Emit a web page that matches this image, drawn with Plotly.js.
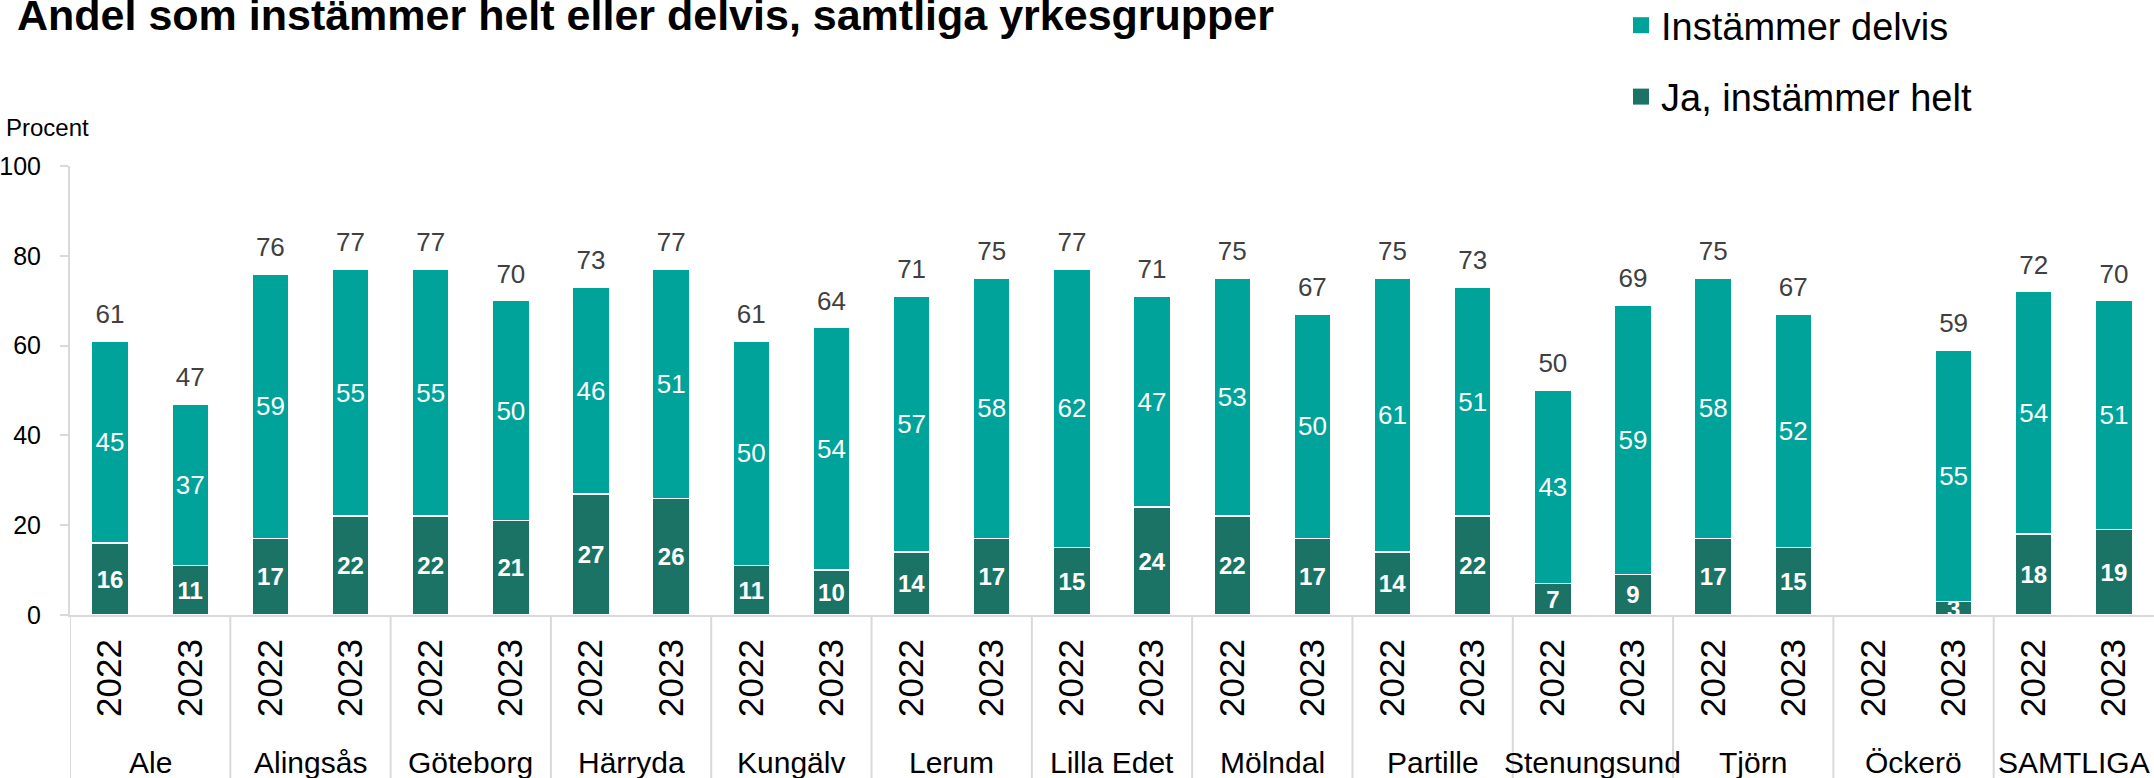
<!DOCTYPE html>
<html>
<head>
<meta charset="utf-8">
<script src="https://cdn.plot.ly/plotly-3.0.1.min.js"></script>
<style>html,body{margin:0;padding:0;background:#fff;}#chart{width:2154px;height:778px;}</style>
</head>
<body>
<div id="chart"></div>
<script>
// ---- data ----
const groups = ['Ale','Alingsås','Göteborg','Härryda','Kungälv','Lerum','Lilla Edet','Mölndal','Partille','Stenungsund','Tjörn','Öckerö','SAMTLIGA'];
const years = ['2022','2023'];
const helt   = [16,11, 17,22, 22,21, 27,26, 11,10, 14,17, 15,24, 22,17, 14,22, 7,9, 17,15, null,3, 18,19];
const delvis = [45,37, 59,55, 55,50, 46,51, 50,54, 57,58, 62,47, 53,50, 61,51, 43,59, 58,52, null,55, 54,51];
const totalt = [61,47, 76,77, 77,70, 73,77, 61,64, 71,75, 77,71, 75,67, 75,73, 50,69, 75,67, null,59, 72,70];
const seriesNames = ['Ja, instämmer helt','Instämmer delvis'];
const titleText = 'Andel som instämmer helt eller delvis, samtliga yrkesgrupper';
const yLabel = 'Procent';

// ---- derived ----
const keys = [], yearText = [];
groups.forEach(g => years.forEach(y => { keys.push(g + ' ' + y); yearText.push(y); }));
const delvisHeight = totalt.map((t, i) => (t == null || helt[i] == null) ? null : t - helt[i]);
const txt = a => a.map(v => v == null ? '' : String(v));

const FONT = 'Liberation Sans, Arial, sans-serif';
const DARK = '#1b7366', LIGHT = '#00a39a', AXIS = '#d9d9d9';
const colors = [DARK, LIGHT];

const traces = [
  {
    type: 'bar', name: seriesNames[0], x: keys, y: helt,
    marker: {color: DARK, line: {color: '#ffffff', width: 1.5}},
    text: txt(helt), textposition: 'inside', insidetextanchor: 'middle',
    textangle: 0, constraintext: 'none', cliponaxis: false,
    textfont: {family: FONT, size: 24, color: '#ffffff', weight: 'bold'},
    showlegend: false, hoverinfo: 'skip'
  },
  {
    type: 'bar', name: seriesNames[1], x: keys, y: delvisHeight,
    marker: {color: LIGHT, line: {color: '#ffffff', width: 1.5}},
    text: txt(delvis), textposition: 'inside', insidetextanchor: 'middle',
    textangle: 0, constraintext: 'none',
    textfont: {family: FONT, size: 26, color: '#ffffff'},
    showlegend: false, hoverinfo: 'skip'
  },
  {
    type: 'scatter', mode: 'markers+text', x: keys, y: totalt,
    text: txt(totalt), textposition: 'top center',
    marker: {size: 17, color: 'rgba(0,0,0,0)'},
    textfont: {family: FONT, size: 26, color: '#404040'},
    showlegend: false, hoverinfo: 'skip', cliponaxis: false
  }
];
// legend entries (square swatches) for the two stacked series
seriesNames.forEach((n, i) => traces.push({
  type: 'scatter', mode: 'markers', name: n, x: [null], y: [null],
  marker: {symbol: 'square', size: 18, color: colors[i]},
  legendgroup: 'g' + i, legendrank: 2 - i, hoverinfo: 'skip'
}));

const M = {l: 70, r: 0, t: 166, b: 163, autoexpand: false};
const plotH = 778 - M.t - M.b;
const pyToPaper = py => (778 - M.b - py) / plotH;
const nCat = keys.length;

const shapes = groups.map((g, i) => ({
  type: 'line', xref: 'x', yref: 'paper',
  x0: i * years.length - 0.5, x1: i * years.length - 0.5,
  y0: 0, y1: pyToPaper(778),
  line: {color: AXIS, width: 2}, layer: 'below'
}));

const annotations = groups.map((g, i) => ({
  xref: 'x', yref: 'paper', x: i * years.length + (years.length - 1) / 2,
  y: pyToPaper(762), yanchor: 'middle', xanchor: 'center',
  text: g, showarrow: false, font: {family: FONT, size: 30, color: '#000'}
}));
annotations.push({
  xref: 'paper', yref: 'paper', x: -66 / (2154 - M.l - M.r), xanchor: 'left',
  y: pyToPaper(127), yanchor: 'middle', text: yLabel, showarrow: false,
  font: {family: FONT, size: 24, color: '#000'}
});

const layout = {
  width: 2154, height: 778, margin: M,
  paper_bgcolor: '#fff', plot_bgcolor: '#fff',
  barmode: 'stack', bargap: 0.54,
  font: {family: FONT, color: '#000'},
  title: {
    text: titleText, xref: 'container', yref: 'container',
    x: 17 / 2154, xanchor: 'left', y: 1 - 15 / 778, yanchor: 'middle',
    font: {family: FONT, size: 43, color: '#000', weight: 'bold'}
  },
  showlegend: true,
  legend: {
    xref: 'container', yref: 'paper', x: 1621 / 2154, y: pyToPaper(-6), xanchor: 'left', yanchor: 'top',
    traceorder: 'grouped', tracegroupgap: 19, itemsizing: 'trace',
    font: {family: FONT, size: 38, color: '#000'}, bgcolor: 'rgba(0,0,0,0)'
  },
  xaxis: {
    type: 'category', tickmode: 'array', tickvals: keys, ticktext: yearText,
    range: [-0.5, nCat - 0.5], autorange: false,
    tickangle: -90, tickfont: {family: FONT, size: 35, color: '#000'},
    ticks: '', showline: true, linecolor: AXIS, linewidth: 2,
    showgrid: false, zeroline: false, ticklabelstandoff: 8, fixedrange: true
  },
  yaxis: {
    range: [0, 100], dtick: 20, showline: true, linecolor: AXIS, linewidth: 2,
    ticks: 'outside', ticklen: 8, tickwidth: 2, tickcolor: AXIS,
    tickfont: {family: FONT, size: 25, color: '#000'},
    showgrid: false, zeroline: false, ticklabelstandoff: 14, fixedrange: true
  },
  shapes: shapes,
  annotations: annotations
};

Plotly.newPlot('chart', traces, layout, {displayModeBar: false, staticPlot: true});
</script>
</body>
</html>
